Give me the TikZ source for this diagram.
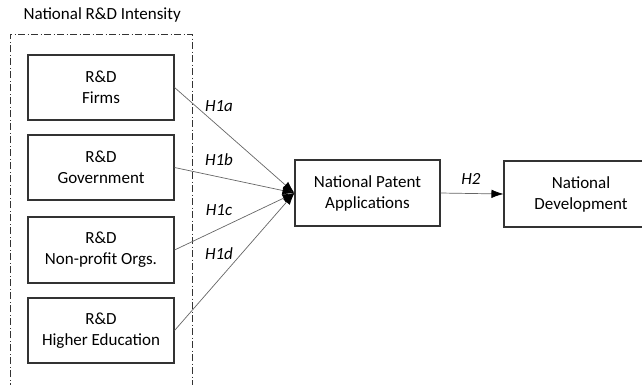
\documentclass[tikz,border=0pt]{standalone}
\usepackage{fontspec}
\setmainfont{Carlito}
\usetikzlibrary{arrows.meta}
\begin{document}
\begin{tikzpicture}[x=1pt,y=-1pt,
  txt/.style={font=\fontsize{17}{21}\selectfont},
  box/.style={draw=black!80,line width=1.1pt,rectangle,align=center,txt,inner sep=0pt},
  hyp/.style={font=\fontsize{17}{20}\selectfont\itshape},
  conn/.style={draw=black!60,line width=0.7pt,-{Latex[length=12pt,width=8.5pt,color=black]}},
  frame/.style={draw=black!80,line width=0.8pt,dash pattern=on 7pt off 2.5pt on 1pt off 2.5pt}]
\clip (0,0) rectangle (642,384);
\node[txt,anchor=west] (title) at (20,15) {National R\&D Intensity};
\coordinate (fa) at (10,390);
\coordinate (fb) at (10,34);
\coordinate (fc) at (192,34);
\coordinate (fd) at (192,390);
\draw[frame] (fa) -- (fb) -- (fc) -- (fd);
\node[box,minimum width=146pt,minimum height=65pt] (f) at (101,87.5) {R\&D\\Firms};
\node[box,minimum width=146pt,minimum height=65pt] (g) at (101,167.5) {R\&D\\Government};
\node[box,minimum width=146pt,minimum height=66pt] (n) at (101,250) {R\&D\\Non-profit Orgs.};
\node[box,minimum width=146pt,minimum height=65pt] (h) at (101,330.5) {R\&D\\Higher Education};
\node[box,minimum width=145pt,minimum height=66pt] (p) at (367.5,193) {National Patent\\Applications};
\node[box,minimum width=154pt,minimum height=66pt] (d) at (581,194) {National\\Development};
\draw[conn] (f.east) -- (p.west);
\draw[conn] (g.east) -- (p.west);
\draw[conn] (n.east) -- (p.west);
\draw[conn] (h.east) -- (p.west);
\draw[conn] (p.east) -- (d.west);
\node[hyp] (l1) at (219,106) {H1a};
\node[hyp] (l2) at (219,160) {H1b};
\node[hyp] (l3) at (219,210) {H1c};
\node[hyp] (l4) at (219,254) {H1d};
\node[hyp] (l5) at (471,179) {H2};
\end{tikzpicture}
\end{document}
